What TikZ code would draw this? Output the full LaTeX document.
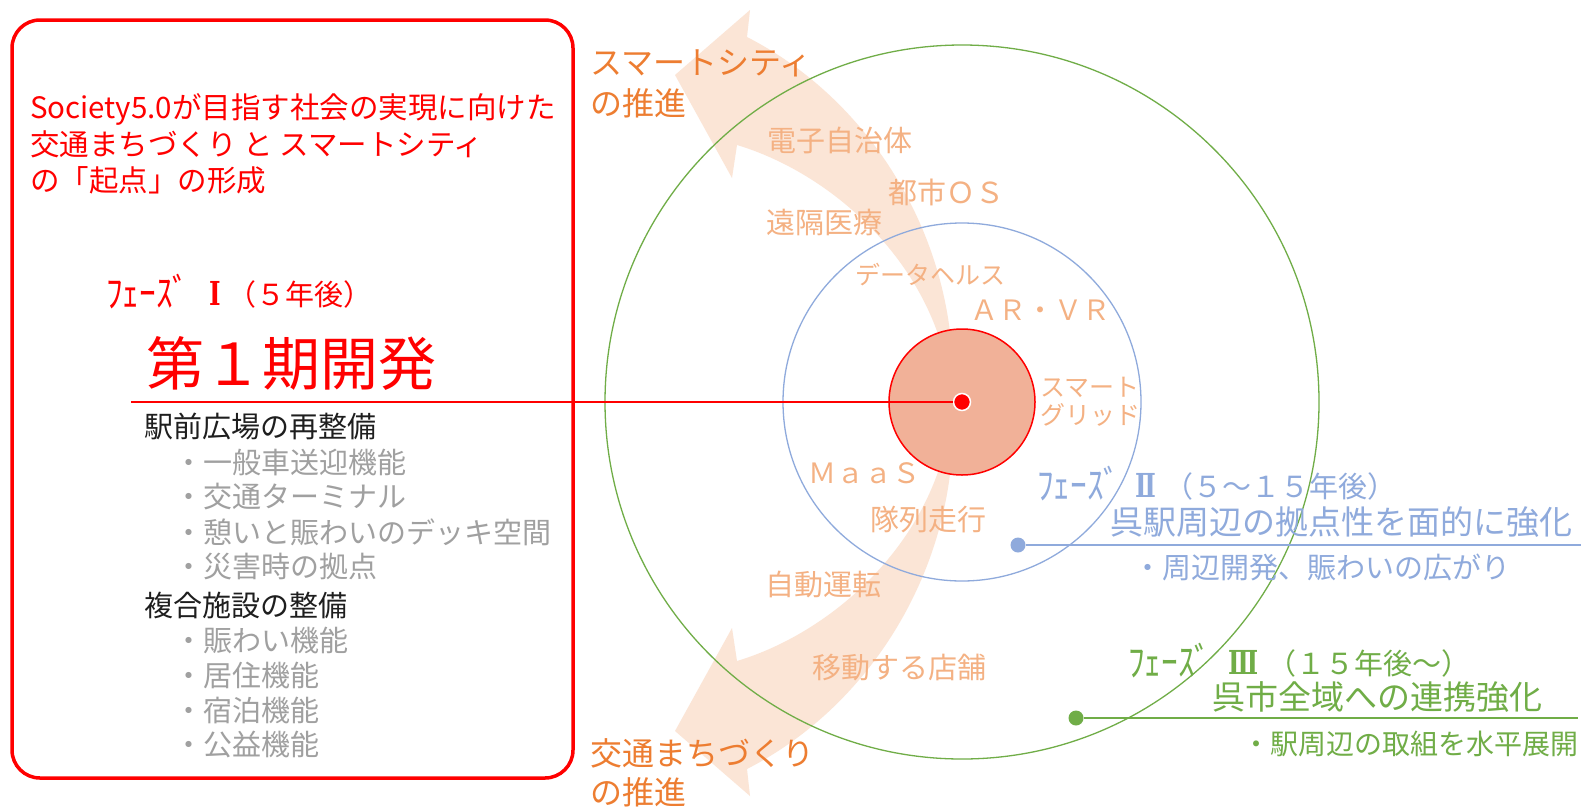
\documentclass[tikz,border=0pt]{standalone}
\usepackage{graphicx}
\usepackage{fontspec}
\setmainfont{Noto Sans CJK JP}
\newfontfamily\romfont{DejaVu Serif}
\definecolor{arrowfill}{RGB}{251,229,214}
\definecolor{lorange}{RGB}{244,177,131}
\definecolor{dorange}{RGB}{237,125,49}
\definecolor{salmon}{RGB}{241,177,152}
\definecolor{bluec}{RGB}{143,170,220}
\definecolor{greenc}{RGB}{112,173,71}
\definecolor{grayc}{RGB}{160,160,160}
\definecolor{blk}{RGB}{30,30,30}
\newcommand\fsz[1]{\fontsize{#1}{#1}\selectfont}
\newcommand\phz{\raisebox{-0.08em}{\scalebox{1.15}[1.35]{ﾌｪｰｽﾞ}}}
\newcommand\rnum[1]{{\romfont\bfseries\fsz{33}\scalebox{0.75}[1]{#1}}}
\begin{document}
\begin{tikzpicture}[x=1pt,y=-1pt,
  lbl/.style={inner sep=0pt,anchor=west},
  redtxt/.style={lbl,text=red,font=\fsz{29.5}},
  headtxt/.style={lbl,text=blk,font=\fsz{29}},
  itemtxt/.style={lbl,text=grayc,font=\fsz{29}},
  bigorange/.style={lbl,text=dorange,font=\fsz{32}},
  tech/.style={lbl,text=lorange,font=\fsz{29}},
  techs/.style={lbl,text=lorange,font=\fsz{25}},
  dotnode/.style={circle,inner sep=0pt,minimum size=15pt}]
\useasboundingbox (0,0) rectangle (1581,806);
\fill[white] (0,0) rectangle (1581,806);

% curved arrows
\fill[arrowfill] (950,332) .. controls (935,210) and (860,95) .. (747,37)
  -- (750,10) -- (675,75) -- (732,178) -- (737,145)
  .. controls (820,170) and (905,240) .. (938,334) -- cycle;
\fill[arrowfill] (950,474) .. controls (935,596) and (860,711) .. (747,769)
  -- (750,796) -- (675,731) -- (732,628) -- (737,661)
  .. controls (820,636) and (905,566) .. (938,472) -- cycle;

% circles
\draw[greenc,line width=1.3pt] (962,402) circle[radius=357];
\draw[bluec,line width=1.3pt] (962,402) circle[radius=179];
\draw[red,fill=salmon,line width=1.5pt] (962,402) circle[radius=73];

% left box
\draw[red,line width=3.5pt,rounded corners=28pt] (12,20) rectangle (573,778);

% connectors and dots
\node[dotnode,fill=red,draw=white,line width=1.5pt,minimum size=17pt] (cdot) at (962,402) {};
\coordinate (rl) at (131,402);
\draw[red,line width=1.2pt] (rl) -- (cdot);
\node[dotnode,fill=bluec] (bdot) at (1018,545) {};
\coordinate (bend) at (1581,545);
\draw[bluec,line width=1.3pt] (bdot) -- (bend);
\node[dotnode,fill=greenc] (gdot) at (1076,718) {};
\coordinate (gend) at (1578,718);
\draw[greenc,line width=1.3pt] (gdot) -- (gend);

% left texts
\node[redtxt] (t1) at (30,109) {Society5.0が目指す社会の実現に向けた};
\node[redtxt] (t2) at (30,144) {交通まちづくり と スマートシティ};
\node[redtxt] (t3) at (30,180) {の「起点」の形成};
\node[lbl,text=red,font=\fsz{29}] (p1) at (106,292) {\phz\hspace{0.7em}\rnum{Ⅰ}\hspace{0.2em}（５年後）};
\node[lbl,text=red,font=\fsz{58}] (d1) at (146,363) {第１期開発};
\node[headtxt] (h1) at (144,426) {駅前広場の再整備};
\node[itemtxt] (i1) at (174,462) {・一般車送迎機能};
\node[itemtxt] (i2) at (174,497) {・交通ターミナル};
\node[itemtxt] (i3) at (174,532) {・憩いと賑わいのデッキ空間};
\node[itemtxt] (i4) at (174,567) {・災害時の拠点};
\node[headtxt] (h2) at (144,605) {複合施設の整備};
\node[itemtxt] (i5) at (174,640) {・賑わい機能};
\node[itemtxt] (i6) at (174,675) {・居住機能};
\node[itemtxt] (i7) at (174,710) {・宿泊機能};
\node[itemtxt] (i8) at (174,745) {・公益機能};

% arrow labels
\node[bigorange] (sc1) at (590,63) {スマートシティ};
\node[bigorange] (sc2) at (590,103) {の推進};
\node[bigorange] (tm1) at (590,753) {交通まちづくり};
\node[bigorange] (tm2) at (590,792) {の推進};

% technology labels
\node[tech] (e1) at (767,140) {電子自治体};
\node[tech] (e2) at (888,192) {都市ＯＳ};
\node[tech] (e3) at (766,222) {遠隔医療};
\node[techs] (e4) at (855,275) {データヘルス};
\node[lbl,text=lorange,font=\fsz{28}] (e5) at (970,310) {ＡＲ・ＶＲ};
\node[techs] (e6) at (1040,387) {スマート};
\node[techs] (e7) at (1040,415) {グリッド};
\node[lbl,text=lorange,font=\fsz{28}] (e8) at (808,473) {ＭａａＳ};
\node[tech] (e9) at (870,520) {隊列走行};
\node[tech] (e10) at (765,585) {自動運転};
\node[tech] (e11) at (812,668) {移動する店舗};

% phase II
\node[lbl,text=bluec,font=\fsz{29}] (p2) at (1037,484) {\phz\hspace{0.5em}\rnum{Ⅱ}\hspace{0.3em}（５～１５年後）};
\node[lbl,text=bluec,font=\fsz{33}] (p2a) at (1110,522) {呉駅周辺の拠点性を面的に強化};
\node[lbl,text=bluec,font=\fsz{29}] (p2b) at (1133,567) {・周辺開発、賑わいの広がり};

% phase III
\node[lbl,text=greenc,font=\fsz{29}] (p3) at (1128,661) {\phz\hspace{0.6em}\rnum{Ⅲ}\hspace{0.3em}（１５年後～）};
\node[lbl,text=greenc,font=\fsz{33}] (p3a) at (1212,697) {呉市全域への連携強化};
\node[lbl,text=greenc,font=\fsz{28}] (p3b) at (1242,744) {・駅周辺の取組を水平展開};
\end{tikzpicture}
\end{document}
